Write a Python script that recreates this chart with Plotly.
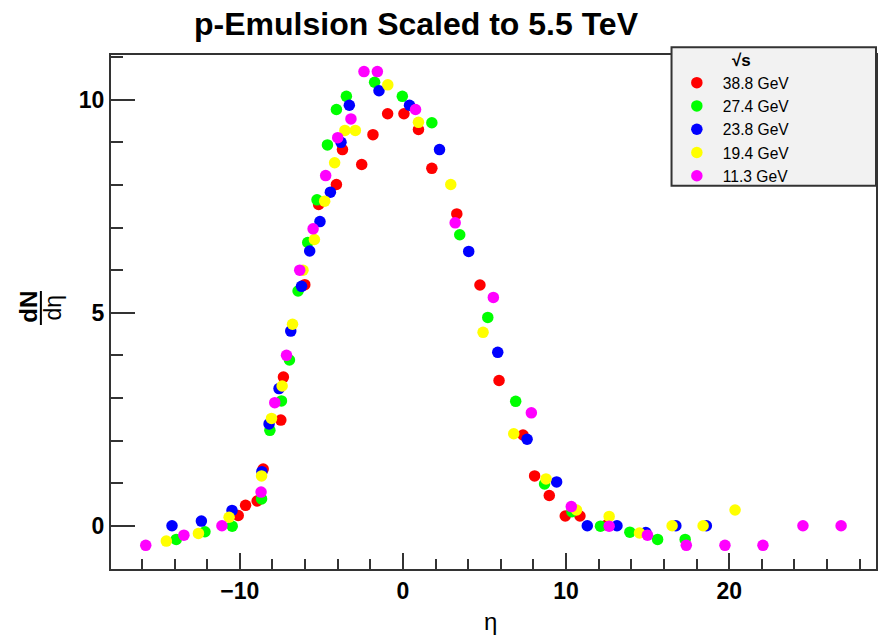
import plotly.graph_objects as go

labels = ["38.8 GeV", "27.4 GeV", "23.8 GeV", "19.4 GeV", "11.3 GeV"]
colors = ["#ff0000", "#00ff00", "#0000ff", "#ffff00", "#ff00ff"]

eta_38 = [-10.1, -9.65, -8.94, -8.57, -7.49, -7.33, -6.02, -5.17, -4.08, -3.71, -2.53, -1.84, -0.94, 0.06, 0.95, 1.77, 3.30, 4.72, 5.89, 7.36, 8.07, 8.97, 9.95, 10.85, 12.5]
dndeta_38 = [0.24, 0.48, 0.58, 1.33, 2.48, 3.49, 5.66, 7.54, 8.01, 8.83, 8.48, 9.18, 9.67, 9.67, 9.30, 8.39, 7.32, 5.65, 3.41, 2.13, 1.17, 0.71, 0.23, 0.23, 0.02]

eta_27 = [-13.90, -12.14, -10.47, -8.67, -8.16, -7.45, -6.96, -6.43, -5.84, -5.27, -4.63, -4.08, -3.47, -1.74, -0.04, 1.77, 3.48, 5.20, 6.91, 8.68, 10.36, 12.11, 13.91, 15.61, 17.30]
dndeta_27 = [-0.32, -0.14, -0.01, 0.63, 2.24, 2.93, 3.89, 5.51, 6.65, 7.65, 8.94, 9.77, 10.08, 10.41, 10.08, 9.46, 6.83, 4.89, 2.92, 0.98, 0.33, -0.01, -0.15, -0.32, -0.32]

eta_23 = [-14.16, -12.36, -10.48, -8.65, -8.21, -7.60, -6.88, -6.22, -5.72, -5.09, -4.45, -3.80, -3.29, -1.47, 0.40, 2.24, 4.03, 5.81, 7.61, 9.42, 11.30, 13.12, 14.89, 16.73, 18.60]
dndeta_23 = [0.0, 0.11, 0.36, 1.27, 2.39, 3.22, 4.57, 5.62, 6.45, 7.14, 7.83, 9.00, 9.87, 10.21, 9.87, 8.83, 6.44, 4.07, 2.03, 1.03, 0.0, 0.0, -0.16, 0.0, 0.0]

eta_19 = [-14.51, -12.54, -10.66, -8.67, -8.06, -7.41, -6.77, -6.13, -5.43, -4.80, -4.19, -3.56, -2.92, -0.93, 0.95, 2.93, 4.91, 6.79, 8.77, 10.64, 12.64, 14.50, 16.50, 18.40, 20.36]
dndeta_19 = [-0.36, -0.18, 0.20, 1.17, 2.52, 3.28, 4.73, 6.00, 6.72, 7.62, 8.52, 9.28, 9.28, 10.35, 9.47, 8.01, 4.54, 2.16, 1.10, 0.37, 0.22, -0.17, 0.0, 0.0, 0.37]

eta_11 = [-15.77, -13.43, -11.10, -8.70, -7.86, -7.14, -6.33, -5.51, -4.74, -4.00, -3.19, -2.39, -1.57, 0.77, 3.20, 5.54, 7.87, 10.32, 12.64, 14.99, 17.37, 19.74, 22.07, 24.52, 26.86]
dndeta_11 = [-0.46, -0.22, 0.0, 0.79, 2.89, 4.00, 6.00, 6.97, 8.22, 9.11, 9.55, 10.66, 10.66, 9.77, 7.11, 5.36, 2.65, 0.45, -0.01, -0.22, -0.46, -0.46, -0.46, 0.0, 0.0]

xs = [eta_38, eta_27, eta_23, eta_19, eta_11]
ys = [dndeta_38, dndeta_27, dndeta_23, dndeta_19, dndeta_11]

FONT = "Liberation Sans, Arial, sans-serif"

fig = go.Figure()
for i in range(5):
    fig.add_trace(go.Scatter(
        x=xs[i], y=ys[i], mode="markers", name=labels[i],
        legendgroup=str(i),
        marker=dict(color=colors[i], size=11.5, symbol="circle", line=dict(width=0)),
    ))

axis_common = dict(
    showline=True, linecolor="#333333", linewidth=2, mirror=True,
    showgrid=False, zeroline=False, ticks="inside", tickcolor="#333333",
    tickwidth=1.5,
    tickfont=dict(family=FONT, size=23, color="black", weight="bold"),
)

def px_x(p):
    return (p - 111) / 767

def px_y(p):
    return (569 - p) / 514

fig.update_layout(
    width=884, height=637,
    margin=dict(l=111, r=6, t=55, b=68),
    paper_bgcolor="white", plot_bgcolor="white",
    title=dict(text="<b>p-Emulsion Scaled to 5.5 TeV</b>",
               x=416 / 884, xref="container", xanchor="center",
               y=1 - 24 / 637, yref="container", yanchor="middle",
               font=dict(family=FONT, size=32, color="black")),
    xaxis=dict(range=[-17.9, 29.0], tick0=0, dtick=10, ticklen=16,
               minor=dict(dtick=2, tick0=0, ticklen=10, ticks="inside", tickcolor="#333333", tickwidth=1.5, showgrid=False),
               **axis_common),
    yaxis=dict(range=[-1.015, 11.05], tick0=0, dtick=5, ticklen=24,
               minor=dict(dtick=1, tick0=0, ticklen=12, ticks="inside", tickcolor="#333333", tickwidth=1.5, showgrid=False),
               **axis_common),
    showlegend=True,
    legend=dict(x=px_x(672.3), y=px_y(66), xanchor="left", yanchor="top",
                bgcolor="rgba(0,0,0,0)", borderwidth=0, itemwidth=42,
                tracegroupgap=0,
                font=dict(family=FONT, size=15.6, color="black")),
    shapes=[
        dict(type="rect", xref="paper", yref="paper",
             x0=px_x(673), x1=1.0, y0=px_y(185.7), y1=px_y(47.3),
             line=dict(color="#333333", width=2), fillcolor="#f2f2f2", layer="above"),
        dict(type="line", xref="paper", yref="paper",
             x0=px_x(40.7), x1=px_x(40.7), y0=px_y(325), y1=px_y(291),
             line=dict(color="black", width=2)),
    ],
    annotations=[
        dict(text="<b>√s</b>", xref="paper", yref="paper",
             x=px_x(743), y=px_y(61), xanchor="center", yanchor="middle", showarrow=False,
             font=dict(family=FONT, size=17, color="black")),
        dict(text="<b>dN</b>", xref="paper", yref="paper", textangle=-90,
             x=px_x(27.5), y=px_y(307), xanchor="center", yanchor="middle", showarrow=False,
             font=dict(family=FONT, size=24, color="black")),
        dict(text="dη", xref="paper", yref="paper", textangle=-90,
             x=px_x(53.3), y=px_y(307), xanchor="center", yanchor="middle", showarrow=False,
             font=dict(family=FONT, size=23, color="black")),
        dict(text="η", xref="paper", yref="paper",
             x=px_x(491.7), y=px_y(621.7), xanchor="center", yanchor="middle", showarrow=False,
             font=dict(family=FONT, size=24, color="black")),
    ],
)

fig.write_html("out.html")
